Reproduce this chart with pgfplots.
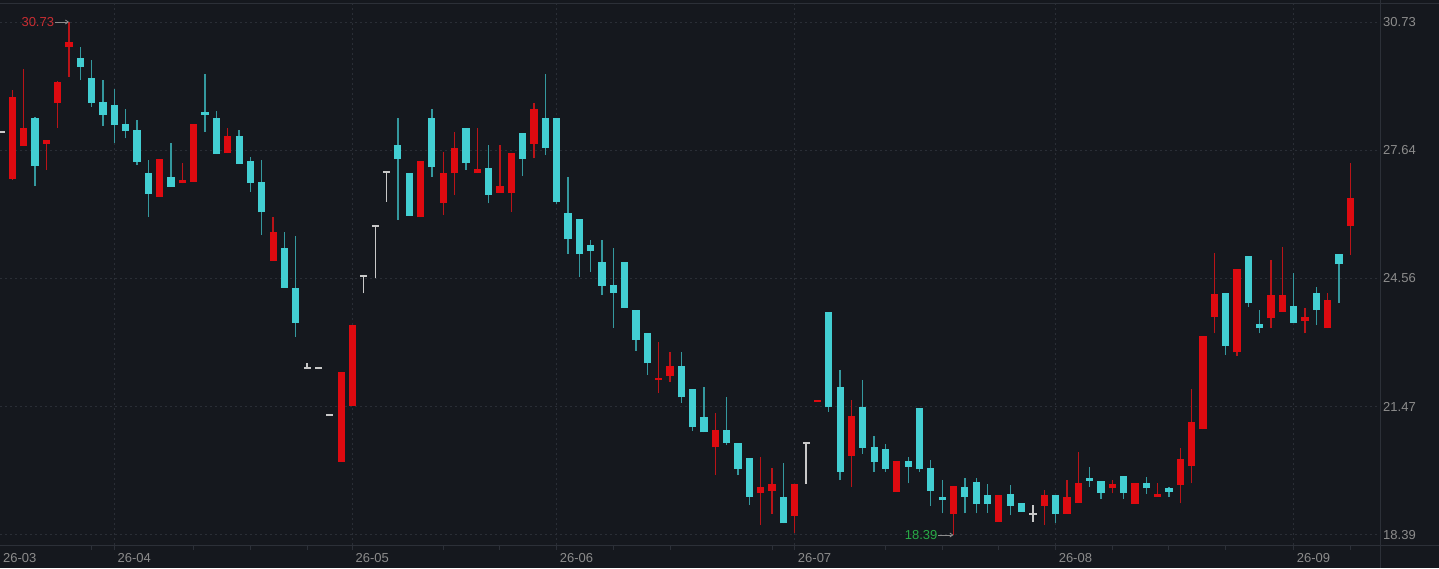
\documentclass[border=0pt]{standalone}
\usepackage{pgfplots}
\pgfplotsset{compat=1.18}
\usepackage{pgfplotstable}
\usepackage{fontspec}
\setmainfont{Liberation Sans}
\usetikzlibrary{arrows.meta}
\definecolor{bg}{RGB}{21,24,30}
\definecolor{linec}{RGB}{44,48,56}
\definecolor{gridc}{RGB}{42,46,54}
\definecolor{upc}{RGB}{222,10,16}
\definecolor{upw}{RGB}{185,20,24}
\definecolor{dnc}{RGB}{66,206,210}
\definecolor{dnw}{RGB}{52,152,158}
\definecolor{flc}{RGB}{200,200,200}
\definecolor{labelc}{RGB}{140,140,140}
\definecolor{hic}{RGB}{200,45,50}
\definecolor{loc}{RGB}{40,170,70}

% i open high low close
\pgfplotstableread{
i o h l c
0 26.95 29.09 26.93 28.92
1 27.75 29.60 27.74 28.18
3 27.80 27.90 27.17 27.89
4 28.78 29.30 28.18 29.29
5 30.12 30.73 29.41 30.26
13 26.53 27.43 26.53 27.43
15 26.85 27.33 26.85 26.92
16 26.89 28.27 26.89 28.27
19 27.57 28.17 27.57 27.99
23 24.98 26.05 24.98 25.67
29 20.15 22.32 20.15 22.32
30 21.49 23.44 21.49 23.44
36 26.03 27.39 26.03 27.39
38 26.38 27.61 26.09 27.09
39 27.09 28.09 26.57 27.71
41 27.09 28.17 27.09 27.19
43 26.62 27.77 26.62 26.78
44 26.61 27.59 26.17 27.59
46 27.80 28.77 27.45 28.63
57 22.12 23.04 21.80 22.17
58 22.21 22.80 22.08 22.45
62 20.50 21.33 19.83 20.92
66 19.41 20.26 18.63 19.55
67 19.46 19.99 18.89 19.61
69 18.85 19.62 18.43 19.62
71 21.60 21.62 21.60 21.62
74 20.30 21.64 19.55 21.25
78 19.42 20.17 19.42 20.17
83 18.89 19.57 18.39 19.57
87 18.71 19.35 18.71 19.35
91 19.09 19.47 18.63 19.34
93 18.89 19.71 18.89 19.30
94 19.17 20.39 19.17 19.65
97 19.51 19.71 19.39 19.62
99 19.14 19.65 19.14 19.65
101 19.31 19.63 19.31 19.38
103 19.59 20.48 19.15 20.22
104 20.05 21.89 19.63 21.10
105 20.93 23.18 20.93 23.18
106 23.63 25.17 23.24 24.18
108 22.78 24.78 22.70 24.78
111 23.60 25.00 23.36 24.16
112 23.76 25.32 23.76 24.16
114 23.54 23.84 23.24 23.64
116 23.36 24.22 23.36 24.04
118 25.83 27.33 25.13 26.50
}\redtab

\pgfplotstableread{
i o h l c
2 28.42 28.44 26.78 27.27
6 29.86 30.14 29.33 29.65
7 29.39 29.82 28.69 28.79
8 28.81 29.33 28.23 28.49
9 28.73 29.11 27.81 28.25
10 28.27 28.63 27.93 28.11
11 28.13 28.37 27.29 27.37
12 27.10 27.41 26.05 26.59
14 27.01 27.81 26.77 26.77
17 28.56 29.48 28.09 28.49
18 28.41 28.60 27.55 27.55
20 27.99 28.13 27.31 27.31
21 27.39 27.49 26.65 26.86
22 26.87 27.41 25.61 26.15
24 25.29 25.67 24.34 24.34
25 24.32 25.58 23.16 23.50
34 27.77 28.41 25.97 27.43
35 27.09 27.09 26.07 26.07
37 28.41 28.63 27.01 27.23
40 28.17 28.17 27.17 27.33
42 27.21 27.77 26.37 26.57
45 28.07 28.07 27.03 27.43
47 28.41 29.48 27.53 27.69
48 28.41 28.41 26.35 26.41
49 26.14 27.01 25.15 25.50
50 25.98 25.98 24.60 25.14
51 25.37 25.49 24.72 25.23
52 24.96 25.49 24.16 24.39
53 24.40 25.29 23.38 24.22
54 24.96 24.96 23.84 23.84
55 23.80 23.80 22.82 23.08
56 23.24 23.24 22.24 22.52
59 22.45 22.78 21.57 21.70
60 21.89 21.89 20.90 20.98
61 21.24 21.96 20.86 20.86
63 20.92 21.70 20.55 20.61
64 20.60 20.60 19.83 19.98
65 20.23 20.23 19.11 19.31
68 19.30 20.11 18.67 18.67
72 23.76 23.76 21.36 21.46
73 21.96 22.36 19.71 19.90
75 21.48 22.13 20.35 20.49
76 20.51 20.78 19.91 20.15
77 20.45 20.58 19.91 19.98
79 20.18 20.27 19.63 20.03
80 21.44 21.44 19.91 19.97
81 19.99 20.19 19.09 19.46
82 19.30 19.71 18.91 19.23
84 19.55 19.75 18.91 19.31
85 19.67 19.75 18.91 19.14
86 19.34 19.62 18.93 19.14
88 19.38 19.59 18.87 19.09
89 19.15 19.15 18.95 18.95
92 19.34 19.34 18.69 18.89
95 19.75 20.03 19.55 19.69
96 19.70 19.70 19.25 19.41
98 19.81 19.81 19.25 19.41
100 19.65 19.79 19.38 19.51
102 19.53 19.55 19.30 19.43
107 24.22 24.22 22.72 22.94
109 25.10 25.10 23.87 23.96
110 23.47 23.80 23.24 23.36
113 23.90 24.70 23.50 23.50
115 24.22 24.36 23.44 23.80
117 25.14 25.14 23.98 24.90
}\dntab

\pgfplotstableread{
i o h l c
-1 28.06 28.06 28.06 28.06
26 22.38 22.53 22.38 22.38
27 22.38 22.38 22.38 22.38
28 21.25 21.25 21.25 21.25
31 24.60 24.60 24.20 24.60
32 25.81 25.81 24.56 25.81
33 27.10 27.10 26.41 27.10
70 20.58 20.58 19.62 20.58
90 18.87 19.11 18.71 18.87
}\fltab

\begin{document}
\begin{tikzpicture}
\path[use as bounding box] (0,0) rectangle (1439pt,-568pt);
\fill[bg] (0,0) rectangle (1439pt,-568pt);
\begin{axis}[
  at={(0pt,-3pt)}, anchor=north west,
  width=1380pt, height=542pt, scale only axis,
  xmin=-1.085, xmax=120.61, ymin=18.149, ymax=31.187,
  axis line style={draw=none},
  xtick={9,30,48,69,92,113},
  xticklabels={26-04,26-05,26-06,26-07,26-08,26-09},
  minor xtick={7,16,21,26,38,43,53,58,67,77,82,87,97,102,107,118},
  xtick pos=left, xtick align=outside,
  major tick length=5pt, minor tick length=5pt,
  xtick style={draw=linec, line width=1pt},
  ytick={18.39,21.47,24.56,27.64,30.73},
  yticklabels={18.39,21.47,24.56,27.64,30.73},
  ytick pos=right, yticklabel pos=right,
  ytick style={draw=none},
  grid=major,
  major grid style={draw=gridc, line width=1pt, dash pattern=on 2pt off 3pt},
  ticklabel style={font=\fontsize{13}{13}\selectfont, text=labelc},
  xticklabel style={anchor=north west, inner sep=0pt, xshift=3pt, yshift=-3pt},
  yticklabel style={anchor=west, inner sep=0pt, xshift=3pt},
]
% wicks
\addplot[draw=upw, line width=1.3pt, -, quiver={u=0, v=\thisrow{h}-\thisrow{l}}] table[x=i, y=l] {\redtab};
\addplot[draw=dnw, line width=1.3pt, -, quiver={u=0, v=\thisrow{h}-\thisrow{l}}] table[x=i, y=l] {\dntab};
\addplot[draw=flc, line width=1.3pt, -, quiver={u=0, v=\thisrow{h}-\thisrow{l}}] table[x=i, y=l] {\fltab};
% bodies
\addplot[draw=upc, line width=7.2pt, -, quiver={u=0, v={max(abs(\thisrow{c}-\thisrow{o}),0.045)}}] table[x=i, y expr={min(\thisrow{o},\thisrow{c})}] {\redtab};
\addplot[draw=dnc, line width=7.2pt, -, quiver={u=0, v={max(abs(\thisrow{c}-\thisrow{o}),0.045)}}] table[x=i, y expr={min(\thisrow{o},\thisrow{c})}] {\dntab};
\addplot[draw=flc, line width=7.2pt, -, quiver={u=0, v={max(abs(\thisrow{c}-\thisrow{o}),0.045)}}] table[x=i, y expr={min(\thisrow{o},\thisrow{c})}] {\fltab};
% annotations
\node[anchor=east, inner sep=0pt, text=hic, font=\fontsize{13}{13}\selectfont] at (axis cs:3.7,30.73) {30.73};
\draw[labelc, line width=0.8pt, -{Straight Barb[length=3pt,width=4pt]}] (axis cs:3.75,30.73) -- (axis cs:5,30.73);
\node[anchor=east, inner sep=0pt, text=loc, font=\fontsize{13}{13}\selectfont] at (axis cs:81.6,18.39) {18.39};
\draw[labelc, line width=0.8pt, -{Straight Barb[length=3pt,width=4pt]}] (axis cs:81.65,18.39) -- (axis cs:83,18.39);
\end{axis}
\draw[linec, line width=1pt] (0,-3pt) -- (1439pt,-3pt);
\draw[linec, line width=1pt] (0,-545pt) -- (1439pt,-545pt);
\draw[linec, line width=1pt] (1380pt,0) -- (1380pt,-568pt);
\node[anchor=north west, inner sep=0pt, text=labelc, font=\fontsize{13}{13}\selectfont] at (3pt,-553pt) {26-03};
\end{tikzpicture}
\end{document}
